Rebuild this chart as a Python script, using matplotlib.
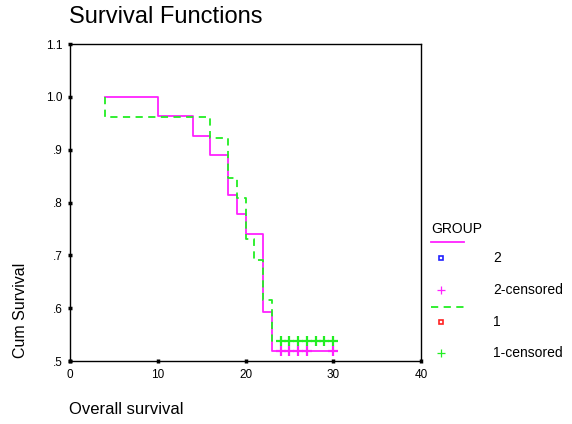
import matplotlib
matplotlib.use('Agg')
import matplotlib.pyplot as plt
from matplotlib.lines import Line2D

plt.rcParams['font.family'] = ['Liberation Sans', 'DejaVu Sans']

# group 2 (n=27) and group 1 (n=26), Kaplan-Meier steps
T2 = [4, 10, 14, 16, 18, 19, 20, 22, 23, 30]
S2 = [1.0, .963, .926, .889, .815, .778, .741, .593, .519, .519]
C2 = [24, 25, 26, 27, 30]
T1 = [4, 4, 16, 18, 19, 20, 21, 22, 23, 30]
S1 = [1.0, .962, .923, .846, .808, .731, .692, .615, .538, .538]
C1 = [24, 25, 26, 27, 28, 29, 30]
YTICKS = [.5, .6, .7, .8, .9, 1.0, 1.1]
YLABELS = ['.5', '.6', '.7', '.8', '.9', '1.0', '1.1']
XTICKS = [0, 10, 20, 30, 40]

MAG, GRN = '#ff22ff', '#22ee22'
W, H = 572, 424

fig = plt.figure(figsize=(W / 100, H / 100), dpi=100)
ax = fig.add_axes([70 / W, (H - 361) / H, (421 - 70) / W, (361 - 44) / H])

ax.step(T2, S2, where='post', color=MAG, lw=1.3)
ax.plot(C2, [S2[-1]] * len(C2), '+', color=MAG, ms=7, mew=1.6)
ax.step(T1, S1, where='post', color=GRN, lw=1.3, ls=(0, (4, 3)))
ax.plot(C1, [S1[-1]] * len(C1), '+', color=GRN, ms=7, mew=1.6)

ax.set_xlim(0, 40)
ax.set_ylim(.5, 1.1)
ax.set_xticks(XTICKS)
ax.set_yticks(YTICKS)
ax.set_yticklabels(YLABELS)
ax.tick_params(direction='inout', length=3, width=2.5, labelsize=8.5, pad=4)
for s in ax.spines.values():
    s.set_linewidth(1.0)

fig.text(69 / W, 1 - 17 / H, 'Survival Functions', fontsize=17, va='center', ha='left')
fig.text(69 / W, 1 - 410 / H, 'Overall survival', fontsize=12, va='center', ha='left')
fig.text(21 / W, 1 - 358 / H, 'Cum Survival', fontsize=11.5, rotation=90,
         va='bottom', ha='center')

# legend drawn by hand, SPSS style
fig.text(431 / W, 1 - 229 / H, 'GROUP', fontsize=10, va='center', ha='left')
rows = [
    (242, dict(color=MAG, lw=1.3), None),
    (258, dict(color='#2222ff', marker='s', ms=3.5, mfc='white', mew=1.2, ls='none'), '2'),
    (290, dict(color=MAG, marker='+', ms=6, mew=0.9, ls='none'), '2-censored'),
    (307, dict(color=GRN, lw=1.3, ls=(0, (4, 3))), None),
    (322, dict(color='#ff2222', marker='s', ms=3.5, mfc='white', mew=1.2, ls='none'), '1'),
    (353, dict(color=GRN, marker='+', ms=6, mew=0.9, ls='none'), '1-censored'),
]
for y, kw, lab in rows:
    yf = 1 - y / H
    if lab is None:
        fig.add_artist(Line2D([431 / W, 464 / W], [yf, yf], transform=fig.transFigure, **kw))
    else:
        fig.add_artist(Line2D([441 / W], [yf], transform=fig.transFigure, **kw))
        fig.text(493 / W, yf, lab, fontsize=10, va='center', ha='left')

fig.savefig('out.png', dpi=100)
